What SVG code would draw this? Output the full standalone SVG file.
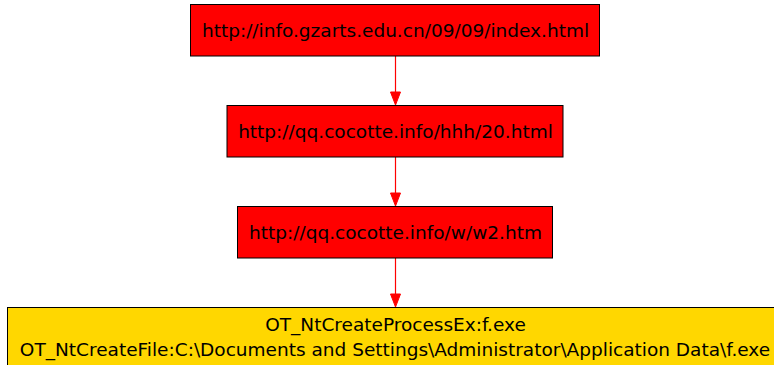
<svg xmlns="http://www.w3.org/2000/svg" width="774" height="365" viewBox="0 0 774 365">
  <style>
    .url rect { fill: #ff0000; stroke: #000000; stroke-width: 1; }
    .proc rect { fill: #ffd700; stroke: #000000; stroke-width: 1; }
    text { font-family: "DejaVu Sans", sans-serif; font-size: 18.5px; fill: #000000; text-anchor: middle; }
  </style>
  <defs>
    <!-- downward arrowhead, tip at the origin -->
    <path id="head" d="M-5,-13 L5,-13 L0,0 Z" fill="#ff0000" stroke="#ff0000" stroke-width="1"/>
  </defs>

  <g id="connectors" stroke="#ff0000" stroke-width="1.2" fill="none">
    <line x1="395.5" y1="56" x2="395.5" y2="93"/>
    <use href="#head" x="395.5" y="105"/>
    <line x1="395.5" y1="157" x2="395.5" y2="194"/>
    <use href="#head" x="395.5" y="206"/>
    <line x1="395.5" y1="258" x2="395.5" y2="295"/>
    <use href="#head" x="395.5" y="307"/>
  </g>

  <g id="node1" class="url">
    <rect x="190.5" y="4.5" width="409" height="51.5"/>
    <text x="395.5" y="37">http://info.gzarts.edu.cn/09/09/index.html</text>
  </g>
  <g id="node2" class="url">
    <rect x="227" y="105.5" width="336" height="51.5"/>
    <text x="395.5" y="138">http://qq.cocotte.info/hhh/20.html</text>
  </g>
  <g id="node3" class="url">
    <rect x="237.5" y="206.5" width="315" height="51.5"/>
    <text x="395.5" y="239">http://qq.cocotte.info/w/w2.htm</text>
  </g>
  <g id="node4" class="proc">
    <rect x="7.5" y="307.5" width="780" height="70"/>
    <text x="395.5" y="331">OT_NtCreateProcessEx:f.exe</text>
    <text x="395" y="356">OT_NtCreateFile:C:\Documents and Settings\Administrator\Application Data\f.exe</text>
  </g>
</svg>
